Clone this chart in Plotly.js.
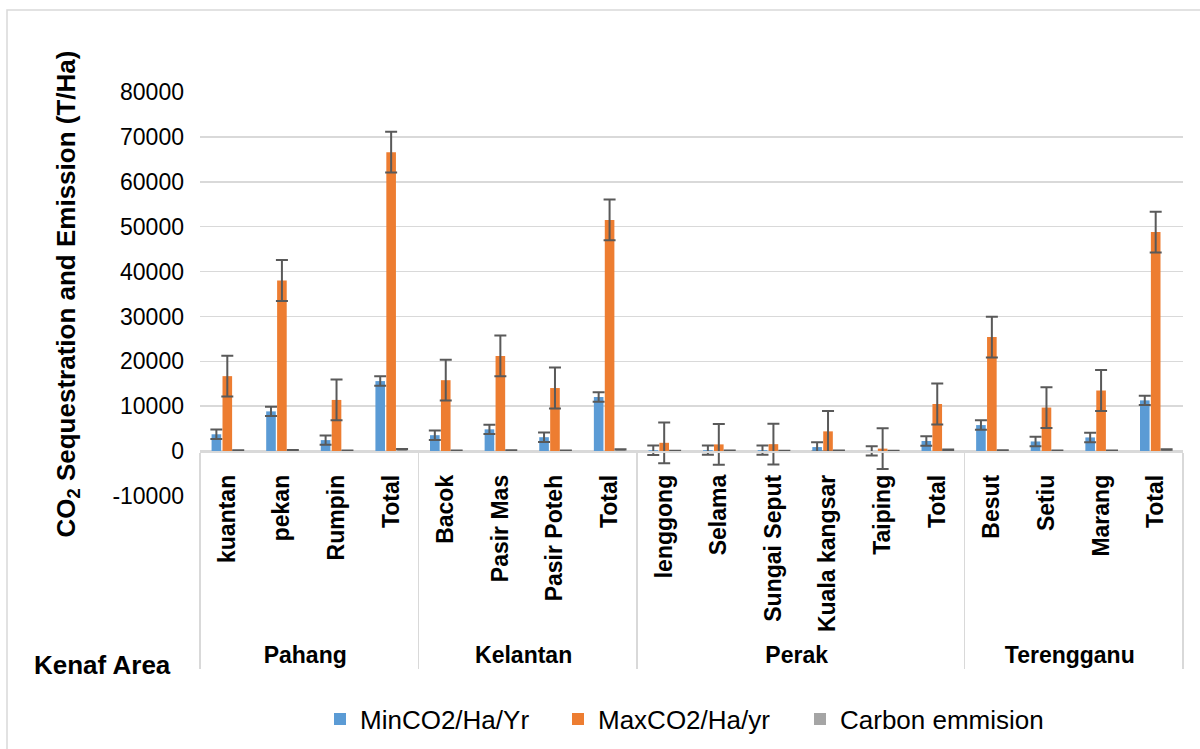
<!DOCTYPE html>
<html>
<head>
<meta charset="utf-8">
<script src="https://cdn.plot.ly/plotly-3.0.1.min.js"></script>
<style>html,body{margin:0;padding:0;background:#fff;}#chart{width:1200px;height:749px;}</style>
</head>
<body>
<div id="chart"></div>
<script>
// ---- data ----
const areaState = ['Pahang','Pahang','Pahang','Pahang',
  'Kelantan','Kelantan','Kelantan','Kelantan',
  'Perak','Perak','Perak','Perak','Perak','Perak',
  'Terengganu','Terengganu','Terengganu','Terengganu'];
const areaNames = ['kuantan','pekan','Rumpin','Total',
  'Bacok','Pasir Mas','Pasir Poteh','Total',
  'lenggong','Selama','Sungai Seput','Kuala kangsar','Taiping','Total',
  'Besut','Setiu','Marang','Total'];
const minCO2 = [3750, 8850, 2450, 15600,
  3550, 4850, 3100, 12050,
  200, 220, 220, 900, 50, 2250,
  5800, 2150, 3050, 11300];
const maxCO2 = [16700, 38000, 11400, 66600,
  15800, 21200, 14050, 51500,
  1850, 1500, 1550, 4400, 550, 10500,
  25400, 9700, 13500, 48800];
const carbonEmission = [150, 220, 100, 450,
  120, 150, 110, 380,
  60, 70, 60, 120, 50, 300,
  150, 80, 120, 350];
const minErr = 1050;
const maxErr = 4550;
const emisErr = 40;
const seriesNames = ['MinCO2/Ha/Yr','MaxCO2/Ha/yr','Carbon emmision'];
const yTickVals = [-10000, 0, 10000, 20000, 30000, 40000, 50000, 60000, 70000, 80000];
const yTickText = ['-10000','0','10000','20000','30000','40000','50000','60000','70000','80000'];
const yRange = [-10000, 80000];

// repeated inner labels (e.g. "Total") need unique keys so each state keeps its own order;
// zero-width spaces keep the visible text identical
const seenName = {};
const areaKeys = areaNames.map(function(n){
  seenName[n] = (seenName[n] || 0) + 1;
  return n + '\u200b'.repeat(seenName[n] - 1);
});

// ---- styles ----
const colors = ['#5b9bd5','#ed7d31','#a5a5a5'];
const legendIds = ['legend','legend2','legend3'];
const legendLeftPx = [320, 558, 800];
const errStyle = {color:'#595959', thickness:2, width:6};
const x = [areaState, areaKeys];

function mk(i, vals, err){
  return {
    type:'bar', name:seriesNames[i], x:x, y:vals,
    marker:{color:colors[i]},
    legend:legendIds[i],
    error_y:Object.assign({type:'constant', value:err, visible:true}, errStyle),
    hoverinfo:'y'
  };
}
const data = [
  mk(0, minCO2, minErr),
  mk(1, maxCO2, maxErr),
  mk(2, carbonEmission, emisErr)
];

const L = 200, R = 17, T = 92, B = 253;
const W = 1200, H = 749;
const pw = W - L - R, ph = H - T - B;
function px2x(p){ return (p - L)/pw; }
function py2y(p){ return (H - B - p)/ph; }

const FONT = 'Liberation Sans, Arial, sans-serif';
const layout = {
  width: W, height: H,
  margin:{l:L, r:R, t:T, b:B, autoexpand:false},
  paper_bgcolor:'#fff', plot_bgcolor:'#fff',
  font:{family:FONT, color:'#000', size:23},
  barmode:'group', bargap:0.4, bargroupgap:0.12,
  showlegend:true,
  xaxis:{
    type:'multicategory',
    anchor:'free',
    position:(0 - yRange[0])/(yRange[1]-yRange[0]),
    showline:true, linecolor:'#d9d9d9', linewidth:1.5,
    showgrid:false, zeroline:false, automargin:false,
    ticks:'', tickangle:-90,
    ticklabelstandoff:13,
    tickfont:{family:FONT, size:23, weight:'bold', color:'#000'},
    showdividers:true, dividercolor:'#d9d9d9', dividerwidth:1.5
  },
  yaxis:{
    range:yRange, tickmode:'array', tickvals:yTickVals, ticktext:yTickText,
    showgrid:true, gridcolor:'#d9d9d9', gridwidth:1.5,
    zeroline:false, showline:false, ticks:'', automargin:false,
    ticklabelstandoff:15,
    tickfont:{family:FONT, size:23, color:'#000'},
    title:{text:'CO<sub>2</sub> Sequestration and Emission (T/Ha)', standoff:29,
      font:{family:FONT, size:26, weight:'bold', color:'#000'}}
  },
  annotations:[{
    text:'Kenaf Area', xref:'paper', yref:'paper', x:px2x(102), y:py2y(665),
    xanchor:'center', yanchor:'middle', showarrow:false,
    font:{family:FONT, size:26, weight:'bold', color:'#000'}
  }],
  shapes:[{
    type:'rect', xref:'paper', yref:'paper',
    x0:px2x(7), x1:px2x(1215), y0:py2y(765), y1:py2y(10),
    line:{color:'#d9d9d9', width:1.5}, fillcolor:'rgba(0,0,0,0)', layer:'below'
  }]
};
legendIds.forEach(function(id, i){
  layout[id] = {orientation:'h', x:px2x(legendLeftPx[i]), xanchor:'left',
    y:py2y(719), yanchor:'middle', bgcolor:'rgba(0,0,0,0)',
    font:{family:FONT, size:26, color:'#000'}, itemwidth:30};
});

Plotly.newPlot('chart', data, layout, {displayModeBar:false, staticPlot:true});
</script>
</body>
</html>
